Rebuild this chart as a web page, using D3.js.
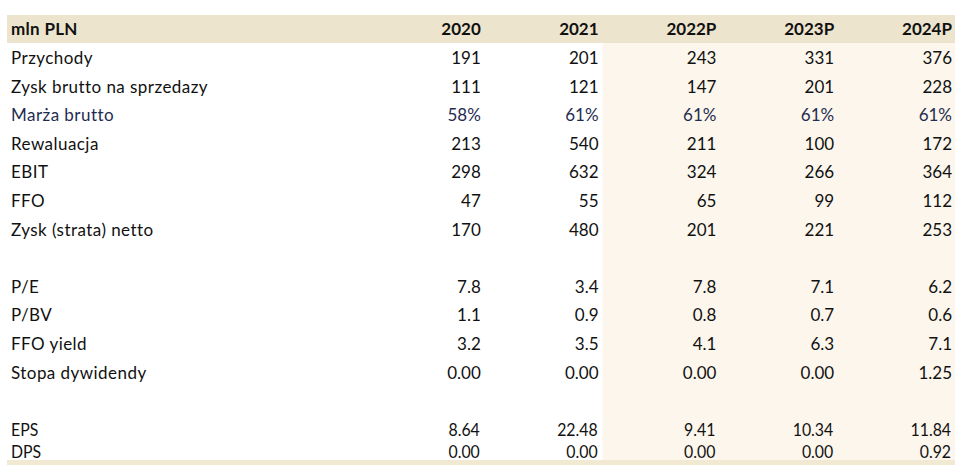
<!DOCTYPE html>
<html><head><meta charset="utf-8">
<script src="https://cdn.jsdelivr.net/npm/d3@7"></script>
<style>
html,body{margin:0;padding:0;background:#fff;}
svg{display:block;}
</style></head>
<body>
<svg id="chart" width="965" height="475"></svg>
<script>
const years = ["2020","2021","2022P","2023P","2024P"];
const forecastYears = ["2022P","2023P","2024P"];
const headerLabel = "mln PLN";

const labels = ["Przychody","Zysk brutto na sprzedazy","Marża brutto","Rewaluacja","EBIT","FFO","Zysk (strata) netto","","P/E","P/BV","FFO yield","Stopa dywidendy","","EPS","DPS"];

const przychody   = [191, 201, 243, 331, 376];
const zyskBrutto  = [111, 121, 147, 201, 228];
const marzaBrutto = [58, 61, 61, 61, 61];
const rewaluacja  = [213, 540, 211, 100, 172];
const ebit        = [298, 632, 324, 266, 364];
const ffo         = [47, 55, 65, 99, 112];
const zyskNetto   = [170, 480, 201, 221, 253];
const pe          = [7.8, 3.4, 7.8, 7.1, 6.2];
const pbv         = [1.1, 0.9, 0.8, 0.7, 0.6];
const ffoYield    = [3.2, 3.5, 4.1, 6.3, 7.1];
const stopaDyw    = [0.00, 0.00, 0.00, 0.00, 1.25];
const eps         = [8.64, 22.48, 9.41, 10.34, 11.84];
const dps         = [0.00, 0.00, 0.00, 0.00, 0.92];

const rowValues = [przychody, zyskBrutto, marzaBrutto, rewaluacja, ebit, ffo, zyskNetto, null, pe, pbv, ffoYield, stopaDyw, null, eps, dps];
const rowFormats = ["d","d","pct","d","d","d","d",null,".1f",".1f",".1f",".2f",null,".2f",".2f"];
const condensedRows = [false,false,false,false,false,false,false,false,false,false,false,false,false,true,true];

const fmt = (v, f) => f === "pct" ? d3.format("d")(v) + "%" : d3.format(f)(v);

const svg = d3.select("#chart");

// columns
const x = d3.scaleBand().domain(years).range([363, 952]).padding(0);
const colRight = y => x(y) + x.bandwidth();

// rows (baselines)
const rowBaselines = labels.map((_, i) => i < 14 ? 64 + i * 28.6 : 64 + 13 * 28.6 + 22);
const headerBaseline = 35;

// forecast shading
svg.append("rect")
  .attr("x", x(forecastYears[0]) + 4)
  .attr("y", 43)
  .attr("width", 955 - (x(forecastYears[0]) + 4))
  .attr("height", 418)
  .attr("fill", "#fcf6ec");

// header band
svg.append("rect").attr("x", 7).attr("y", 15).attr("width", 948).attr("height", 28).attr("fill", "#ede4cd");
// bottom band
svg.append("rect").attr("x", 7).attr("y", 460).attr("width", 948).attr("height", 5).attr("fill", "#f2e9d2");

const font = "Lato, 'Open Sans', sans-serif";

svg.append("text").attr("x", 11).attr("y", headerBaseline)
  .attr("font-family", font).attr("font-size", 17).attr("font-weight", 700).attr("fill", "#111")
  .attr("letter-spacing", 0.3)
  .text(headerLabel);

svg.selectAll("text.yr").data(years).enter().append("text").attr("class","yr")
  .attr("x", d => colRight(d)).attr("y", headerBaseline)
  .attr("text-anchor","end")
  .attr("font-family", font).attr("font-size", 17).attr("font-weight", 700).attr("fill", "#111")
  .text(d => d);

const rows = labels.map((l, i) => ({label: l, vals: rowValues[i], f: rowFormats[i], cond: condensedRows[i], y: rowBaselines[i], i}));

rows.forEach(r => {
  if (!r.label) return;
  const g = svg.append("g");
  const color = r.label === "Marża brutto" ? "#1f2d50" : "#111";
  if (r.cond) {
    g.append("text")
      .attr("transform", `translate(11,${r.y}) scale(0.88,1)`)
      .attr("font-family", font)
      .attr("font-size", 18).attr("fill", color).text(r.label);
    g.selectAll("text.v").data(r.vals).enter().append("text").attr("class","v")
      .attr("transform", (d, j) => `translate(${colRight(years[j]) - 1},${r.y}) scale(0.88,1)`)
      .attr("text-anchor","end")
      .attr("font-family", font)
      .attr("font-size", 18).attr("fill", color)
      .text(d => fmt(d, r.f));
  } else {
    g.append("text").attr("x", 11).attr("y", r.y)
      .attr("font-family", font).attr("font-size", 17).attr("fill", color)
      .attr("letter-spacing", 0.45)
      .text(r.label);
    g.selectAll("text.v").data(r.vals).enter().append("text").attr("class","v")
      .attr("x", (d, j) => colRight(years[j])).attr("y", r.y)
      .attr("text-anchor","end")
      .attr("font-family", font).attr("font-size", 17).attr("fill", color)
      .text(d => fmt(d, r.f));
  }
});
</script>
</body></html>
